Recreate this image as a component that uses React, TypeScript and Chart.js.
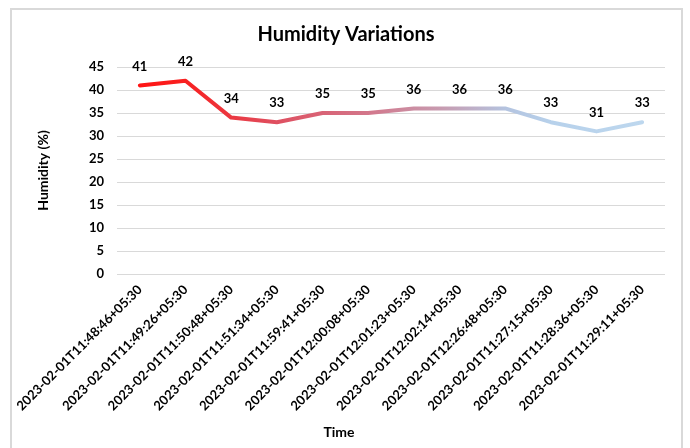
import React, { useEffect, useRef } from "react";
import { Chart, registerables } from "chart.js";

Chart.register(...registerables);

const categories: string[] = [
  "2023-02-01T11:48:46+05:30",
  "2023-02-01T11:49:26+05:30",
  "2023-02-01T11:50:48+05:30",
  "2023-02-01T11:51:34+05:30",
  "2023-02-01T11:59:41+05:30",
  "2023-02-01T12:00:08+05:30",
  "2023-02-01T12:01:23+05:30",
  "2023-02-01T12:02:14+05:30",
  "2023-02-01T12:26:48+05:30",
  "2023-02-01T11:27:15+05:30",
  "2023-02-01T11:28:36+05:30",
  "2023-02-01T11:29:11+05:30",
];
const humidity: number[] = [41, 42, 34, 33, 35, 35, 36, 36, 36, 33, 31, 33];
const yTicks: number[] = [0, 5, 10, 15, 20, 25, 30, 35, 40, 45];
const xTitle = "Time";

const FONT = "Lato, 'Open Sans', sans-serif";

const framePlugin = {
  id: "frame",
  beforeDraw(chart: any) {
    const ctx = chart.ctx;
    ctx.save();
    ctx.fillStyle = "#ffffff";
    ctx.fillRect(0, 0, chart.width, chart.height);
    ctx.strokeStyle = "#d9d9d9";
    ctx.lineWidth = 2;
    ctx.strokeRect(11, 9, 671, 460);
    ctx.restore();
  },
  afterDraw(chart: any) {
    const ctx = chart.ctx;
    ctx.save();
    ctx.font = `bold 14px ${FONT}`;
    ctx.fillStyle = "#000000";
    ctx.textAlign = "center";
    ctx.textBaseline = "middle";
    ctx.fillText(xTitle, 339, 432);
    ctx.restore();
  },
};

const labelPlugin = {
  id: "valueLabels",
  afterDatasetsDraw(chart: any) {
    const ctx = chart.ctx;
    const meta = chart.getDatasetMeta(0);
    const data = chart.data.datasets[0].data;
    ctx.save();
    ctx.font = `bold 13px ${FONT}`;
    ctx.fillStyle = "#000000";
    ctx.textAlign = "center";
    ctx.textBaseline = "middle";
    meta.data.forEach((pt: any, i: number) => {
      ctx.fillText(String(data[i]), pt.x, pt.y - 19);
    });
    ctx.restore();
  },
};

export default function App() {
  const ref = useRef<HTMLCanvasElement>(null);
  useEffect(() => {
    if (!ref.current) return;
    const chart = new Chart(ref.current, {
      type: "line",
      data: {
        labels: categories,
        datasets: [
          {
            data: humidity,
            borderWidth: 4,
            pointRadius: 0,
            tension: 0,
            borderJoinStyle: "round",
            borderCapStyle: "round",
            borderColor: (c: any) => {
              const ch = c.chart;
              const xs = ch.scales && ch.scales.x;
              if (!ch.chartArea || !xs) return "#ff0000";
              const x0 = xs.getPixelForValue(0);
              const x1 = xs.getPixelForValue(categories.length - 1);
              const g = ch.ctx.createLinearGradient(x0, 0, x1, 0);
              g.addColorStop(0, "#ff1515");
              g.addColorStop(0.09, "#f82020");
              g.addColorStop(0.27, "#df4f60");
              g.addColorStop(0.45, "#d3768a");
              g.addColorStop(0.6, "#c79bb0");
              g.addColorStop(0.73, "#b4c4e0");
              g.addColorStop(0.82, "#b7d1eb");
              g.addColorStop(1, "#bdd7ee");
              return g;
            },
          },
        ],
      },
      options: {
        responsive: false,
        animation: false,
        layout: { padding: { left: 27, right: 25, top: 0, bottom: 0 } },
        plugins: {
          legend: { display: false },
          tooltip: { enabled: false },
          title: {
            display: true,
            text: "Humidity Variations",
            color: "#000000",
            font: { family: FONT, size: 20, weight: "bold", lineHeight: 1.2 },
            padding: { top: 23, bottom: 20 },
          },
        },
        scales: {
          x: {
            offset: true,
            grid: { display: false, drawTicks: false },
            border: { display: false },
            ticks: {
              autoSkip: false,
              minRotation: 45,
              maxRotation: 45,
              padding: 8,
              color: "#000000",
              font: { family: FONT, size: 13, weight: "bold" },
            },
            title: { display: false },
            afterFit: (s: any) => {
              s.height = 174;
            },
          },
          y: {
            min: 0,
            max: 45,
            afterBuildTicks: (s: any) => {
              s.ticks = yTicks.map((v) => ({ value: v }));
            },
            grid: { color: "#d9d9d9", lineWidth: 1, drawTicks: false },
            border: { display: false },
            ticks: {
              padding: 13,
              color: "#000000",
              font: { family: FONT, size: 13, weight: "bold" },
            },
            title: {
              display: true,
              text: "Humidity (%)",
              color: "#000000",
              font: { family: FONT, size: 14, weight: "bold", lineHeight: 1.2 },
              padding: { top: 8, bottom: 0 },
            },
            afterFit: (s: any) => {
              s.width = 90;
            },
          },
        },
      },
      plugins: [framePlugin, labelPlugin],
    });
    return () => chart.destroy();
  }, []);
  return (
    <div style={{ position: "absolute", left: 0, top: 0, width: 690, height: 448 }}>
      <canvas ref={ref} width={690} height={448} style={{ display: "block" }} />
    </div>
  );
}
